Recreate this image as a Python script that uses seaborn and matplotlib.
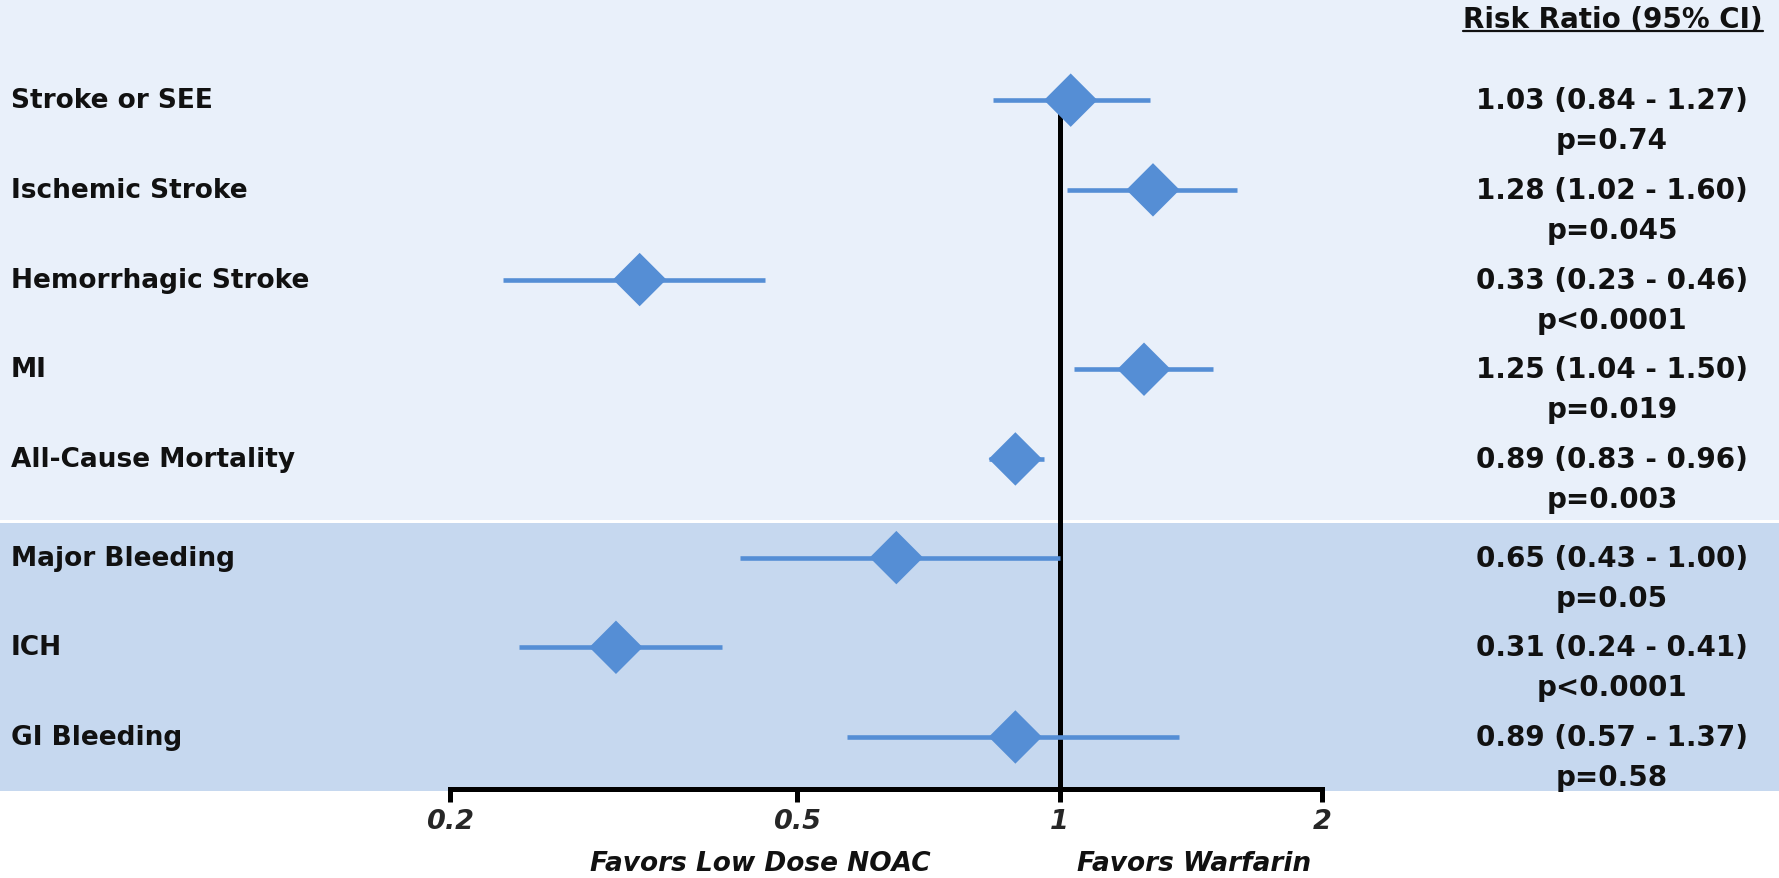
import matplotlib
matplotlib.use("Agg")
import matplotlib.pyplot as plt
from matplotlib.patches import Rectangle
from matplotlib.lines import Line2D
from matplotlib.ticker import FixedLocator, FixedFormatter, NullLocator
import seaborn as sns
import pandas as pd

# ---------------- data ----------------
outcomes = ["Stroke or SEE", "Ischemic Stroke", "Hemorrhagic Stroke", "MI",
            "All-Cause Mortality", "Major Bleeding", "ICH", "GI Bleeding"]
rr = [1.03, 1.28, 0.33, 1.25, 0.89, 0.65, 0.31, 0.89]
ci_low = [0.84, 1.02, 0.23, 1.04, 0.83, 0.43, 0.24, 0.57]
ci_high = [1.27, 1.60, 0.46, 1.50, 0.96, 1.00, 0.41, 1.37]
pvals = ["p=0.74", "p=0.045", "p<0.0001", "p=0.019", "p=0.003",
         "p=0.05", "p<0.0001", "p=0.58"]
group = ["efficacy"] * 5 + ["safety"] * 3
tick_values = [0.2, 0.5, 1, 2]
tick_labels = ["0.2", "0.5", "1", "2"]
header = "Risk Ratio (95% CI)"
favors_left = "Favors Low Dose NOAC"
favors_right = "Favors Warfarin"

df = pd.DataFrame({"outcome": outcomes, "rr": rr, "lo": ci_low, "hi": ci_high,
                   "p": pvals, "group": group})
df["ypos"] = [i + (0.1 if g == "safety" else 0.0) for i, g in enumerate(df["group"])]

# ---------------- style ----------------
sns.set_theme(style="white")
plt.rcParams["font.family"] = ["DejaVu Sans"]
BLUE = "#558ED5"
LIGHT = "#E9F0FA"
DARK = "#C6D8EF"
FS = 20

W, H = 1779, 879
fig = plt.figure(figsize=(W / 100, H / 100), dpi=100)
fig.patch.set_facecolor("white")

ax = fig.add_axes([450 / W, 89 / H, 872 / W, 790 / H])
ax.set_facecolor("none")

# background panels (figure coordinates)
ax.add_patch(Rectangle((0, (H - 521) / H), 1, 521 / H, transform=fig.transFigure,
                       facecolor=LIGHT, edgecolor="none", zorder=0, clip_on=False))
ax.add_patch(Rectangle((0, (H - 792) / H), 1, (792 - 524) / H, transform=fig.transFigure,
                       facecolor=DARK, edgecolor="none", zorder=0, clip_on=False))

ax.set_xscale("log")
ax.set_xlim(0.2, 2)
ax.set_ylim(7.68, -1.128)

# reference line at 1
ax.vlines(1, 0, 7.68, color="black", lw=3.6, zorder=2)

# confidence intervals
ax.hlines(df["ypos"], df["lo"], df["hi"], color=BLUE, lw=3.3, zorder=3)

# point estimates
sns.scatterplot(data=df, x="rr", y="ypos", marker="D", s=740, color=BLUE,
                edgecolor="none", linewidth=0, ax=ax, zorder=4, legend=False,
                clip_on=False)

# axes styling
for side in ["left", "top", "right"]:
    ax.spines[side].set_visible(False)
ax.spines["bottom"].set_linewidth(3.6)
ax.spines["bottom"].set_color("black")
ax.spines["bottom"].set_capstyle("projecting")
ax.xaxis.set_major_locator(FixedLocator(tick_values))
ax.xaxis.set_major_formatter(FixedFormatter(tick_labels))
ax.xaxis.set_minor_locator(NullLocator())
ax.tick_params(axis="x", which="major", direction="out", length=9.5, width=3.6,
               color="black", bottom=True, pad=4, labelsize=19.5)
for lab in ax.get_xticklabels():
    lab.set_fontweight("bold")
    lab.set_fontstyle("italic")
ax.set_yticks([])
ax.set_xlabel("")
ax.set_ylabel("")

# left labels and right-hand text
for _, row in df.iterrows():
    ax.annotate(row["outcome"], xy=(11 / W, row["ypos"]),
                xycoords=("figure fraction", "data"), ha="left", va="center",
                fontsize=19, fontweight="bold", color="#111111")
    txt = f"{row['rr']:.2f} ({row['lo']:.2f} - {row['hi']:.2f})"
    ax.annotate(txt, xy=(1612 / W, row["ypos"]),
                xycoords=("figure fraction", "data"), ha="center", va="center",
                fontsize=FS, fontweight="bold", color="#111111")
    ax.annotate(row["p"], xy=(1612 / W, row["ypos"]),
                xycoords=("figure fraction", "data"), xytext=(0, -28.8),
                textcoords="offset points", ha="center", va="center",
                fontsize=FS, fontweight="bold", color="#111111")

# header with underline
hdr = fig.text(1763 / W, 1 - 20 / H, header, ha="right", va="center",
               fontsize=FS, fontweight="bold", color="#111111")
fig.canvas.draw()
bb = hdr.get_window_extent(renderer=fig.canvas.get_renderer())
yl = (H - 32) / H
fig.add_artist(Line2D([bb.x0 / W, bb.x1 / W], [yl, yl], color="#111111", lw=1.6,
                      transform=fig.transFigure))

# favors labels
fig.text(760 / W, 14.5 / H, favors_left, ha="center", va="center", fontsize=19,
         fontweight="bold", fontstyle="italic", color="#111111")
fig.text(1194 / W, 14.5 / H, favors_right, ha="center", va="center", fontsize=19,
         fontweight="bold", fontstyle="italic", color="#111111")

fig.savefig("out.png", dpi=100, facecolor="white")
